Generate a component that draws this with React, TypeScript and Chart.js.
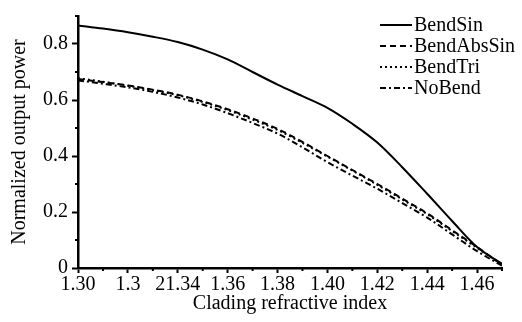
import React, { useEffect, useRef } from "react";
import { Chart, registerables } from "chart.js";

Chart.register(...registerables);

const X_VALUES = [1.30, 1.31, 1.32, 1.33, 1.34, 1.35, 1.36, 1.37, 1.38, 1.39, 1.40, 1.41, 1.42, 1.43, 1.44, 1.45, 1.46, 1.47];
const BEND_SIN = [0.866, 0.855, 0.842, 0.826, 0.807, 0.78, 0.745, 0.7, 0.655, 0.614, 0.572, 0.515, 0.448, 0.36, 0.265, 0.168, 0.075, 0.015];
const BEND_ABS_SIN = [0.675, 0.664, 0.652, 0.637, 0.619, 0.595, 0.567, 0.534, 0.497, 0.45, 0.4, 0.35, 0.3, 0.248, 0.195, 0.135, 0.075, 0.012];
const BEND_TRI = [0.678, 0.665, 0.651, 0.635, 0.617, 0.593, 0.564, 0.53, 0.493, 0.447, 0.398, 0.348, 0.297, 0.245, 0.192, 0.132, 0.072, 0.011];
const NO_BEND = [0.67, 0.658, 0.645, 0.629, 0.609, 0.584, 0.553, 0.518, 0.48, 0.431, 0.378, 0.33, 0.283, 0.232, 0.18, 0.12, 0.06, 0.008];
const SERIES_NAMES = ["BendSin", "BendAbsSin", "BendTri", "NoBend"];

const X_TICKS = [1.30, 1.32, 1.34, 1.36, 1.38, 1.40, 1.42, 1.44, 1.46];
const X_TICK_LABELS = ["1.30", "1.3", "21.34", "1.36", "1.38", "1.40", "1.42", "1.44", "1.46"];
const X_MINOR = [1.31, 1.33, 1.35, 1.37, 1.39, 1.41, 1.43, 1.45, 1.47];
const Y_TICKS = [0, 0.2, 0.4, 0.6, 0.8];
const Y_TICK_LABELS = ["0", "0.2", "0.4", "0.6", "0.8"];
const Y_MINOR = [0.1, 0.3, 0.5, 0.7, 0.9];

const X_TITLE = "Clading refractive index";
const Y_TITLE = "Normalized output power";

const FONT_FAMILY = "'Liberation Serif', 'Times New Roman', serif";

const pts = (ys: number[]) => X_VALUES.map((x, i) => ({ x, y: ys[i] }));

const minorTicksPlugin = {
  id: "minorTicks",
  afterDraw(chart: any) {
    const { ctx, scales } = chart;
    const xs = scales.x;
    const ys = scales.y;
    ctx.save();
    ctx.strokeStyle = "#000";
    ctx.lineWidth = 2;
    const xAxisY = chart.chartArea.bottom;
    X_MINOR.forEach((v) => {
      const px = xs.getPixelForValue(v);
      ctx.beginPath();
      ctx.moveTo(px, xAxisY);
      ctx.lineTo(px, xAxisY + 3);
      ctx.stroke();
    });
    const yAxisX = chart.chartArea.left;
    Y_MINOR.forEach((v) => {
      const py = ys.getPixelForValue(v);
      ctx.beginPath();
      ctx.moveTo(yAxisX, py);
      ctx.lineTo(yAxisX - 3, py);
      ctx.stroke();
    });
    ctx.restore();
  },
};

const legendPlugin = {
  id: "customLegend",
  afterDraw(chart: any) {
    const { ctx } = chart;
    const right = chart.chartArea.right;
    const lineStart = right - 122;
    const lineEnd = right - 90;
    const textX = right - 88;
    ctx.save();
    chart.data.datasets.forEach((ds: any, i: number) => {
      const y = 25 + i * 21;
      ctx.beginPath();
      ctx.setLineDash(ds.borderDash || []);
      ctx.lineWidth = 2;
      ctx.strokeStyle = "#000";
      ctx.moveTo(lineStart, y);
      ctx.lineTo(lineEnd, y);
      ctx.stroke();
      ctx.setLineDash([]);
      ctx.fillStyle = "#000";
      ctx.font = `20px ${FONT_FAMILY}`;
      ctx.textBaseline = "middle";
      ctx.textAlign = "left";
      ctx.fillText(ds.label, textX, y + 1);
    });
    ctx.restore();
  },
};

export default function App() {
  const canvasRef = useRef<HTMLCanvasElement | null>(null);

  useEffect(() => {
    document.body.style.margin = "0";
    const canvas = canvasRef.current;
    if (!canvas) return;
    const common = {
      borderColor: "#000",
      backgroundColor: "#000",
      borderWidth: 2,
      pointRadius: 0,
      fill: false,
      cubicInterpolationMode: "monotone" as const,
    };
    const chart = new Chart(canvas, {
      type: "line",
      data: {
        datasets: [
          { ...common, label: SERIES_NAMES[0], data: pts(BEND_SIN), borderDash: [] },
          { ...common, label: SERIES_NAMES[1], data: pts(BEND_ABS_SIN), borderDash: [6, 4] },
          { ...common, label: SERIES_NAMES[2], data: pts(BEND_TRI), borderDash: [2, 3] },
          { ...common, label: SERIES_NAMES[3], data: pts(NO_BEND), borderDash: [6, 3, 2, 3] },
        ],
      },
      options: {
        responsive: false,
        animation: false,
        devicePixelRatio: 1,
        layout: { padding: { top: 13, right: 20, left: 0, bottom: 0 } },
        plugins: {
          legend: { display: false },
          tooltip: { enabled: false },
        },
        scales: {
          x: {
            type: "linear",
            min: 1.30,
            max: 1.47,
            afterBuildTicks: (scale: any) => {
              scale.ticks = X_TICKS.map((v) => ({ value: v }));
            },
            afterFit: (scale: any) => {
              scale.height = 54;
            },
            ticks: {
              autoSkip: false,
              maxRotation: 0,
              padding: 0,
              color: "#000",
              font: { family: FONT_FAMILY, size: 20 },
              callback: (_v: any, i: number) => X_TICK_LABELS[i],
            },
            grid: {
              display: true,
              drawOnChartArea: false,
              drawTicks: true,
              tickLength: 5,
              tickColor: "#000",
              tickWidth: 2,
            },
            border: { display: true, color: "#000", width: 2.5 },
            title: {
              display: true,
              text: X_TITLE,
              color: "#000",
              font: { family: FONT_FAMILY, size: 20 },
              padding: { top: 0, bottom: 6 },
            },
          },
          y: {
            type: "linear",
            min: 0,
            max: 0.9,
            afterBuildTicks: (scale: any) => {
              scale.ticks = Y_TICKS.map((v) => ({ value: v }));
            },
            afterFit: (scale: any) => {
              scale.width = 78;
            },
            ticks: {
              autoSkip: false,
              padding: 4,
              color: "#000",
              font: { family: FONT_FAMILY, size: 20 },
              callback: (_v: any, i: number) => Y_TICK_LABELS[i],
            },
            grid: {
              display: true,
              drawOnChartArea: false,
              drawTicks: true,
              tickLength: 6,
              tickColor: "#000",
              tickWidth: 2,
            },
            border: { display: true, color: "#000", width: 2.5 },
            title: {
              display: true,
              text: Y_TITLE,
              color: "#000",
              font: { family: FONT_FAMILY, size: 20 },
              padding: { top: 8, bottom: 0 },
            },
          },
        },
      },
      plugins: [minorTicksPlugin, legendPlugin],
    });
    return () => chart.destroy();
  }, []);

  return (
    <div style={{ width: 522, height: 322, background: "#fff" }}>
      <canvas ref={canvasRef} width={522} height={322} style={{ display: "block" }} />
    </div>
  );
}
